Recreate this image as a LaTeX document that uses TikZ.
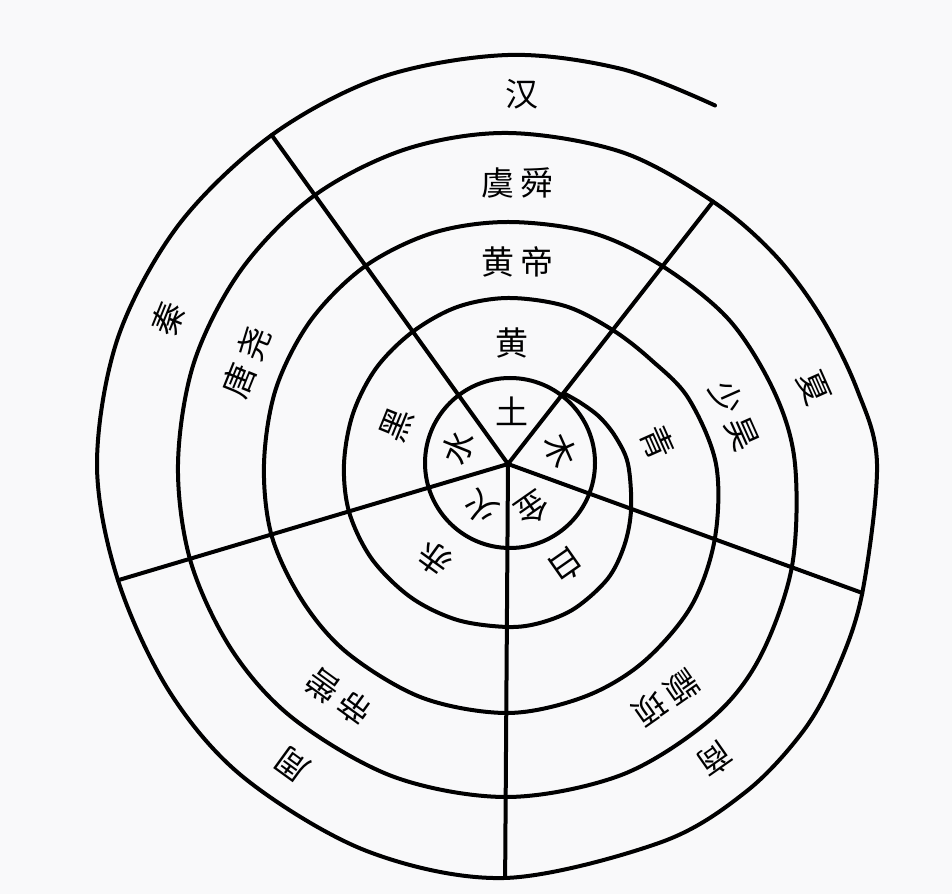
\documentclass[tikz,border=0pt]{standalone}
\usepackage{fontspec}
\newfontfamily\cjk{Noto Sans CJK SC}
\definecolor{paper}{RGB}{249,249,250}
\tikzset{
    ring/.style={line width=4pt, line cap=round, line join=round},
    lbl/.style={font=\cjk\fontsize{33}{33}\selectfont, inner sep=0pt}
}
\newcommand{\gap}{\hspace{6pt}}
\begin{document}
\begin{tikzpicture}[x=1pt, y=1pt]
            % Page
            \fill[paper] (0,0) rectangle (952,894);
            \coordinate (C) at (508,430);
            % Inner circle
            \draw[ring] (510,431) circle[radius=85];
            % Spiral rings
            \draw[ring, shift={(C)}] plot[smooth, tension=0.55] coordinates {
                (52:90) (40:95) (27:103) (14:111) (0:120) (-20:131) (-35:142) (-49:152)
                (-65:159) (-78:162) (-90:163) (-108:164) (-126:165) (-145:166) (-163:166)
                (-180:164) (-198:163) (-216:163) (-234:163) (-252:165) (-270:166) (-290:168)
                (-308:170)
                (-324:177) (-340:192) (-360:208) (-380:220) (-398:232) (-416:240) (-432:245)
                (-450:249) (-470:249) (-490:248) (-506:247) (-523:247) (-540:244) (-558:244)
                (-576:244) (-594:244) (-612:243) (-630:242) (-650:246) (-668:251)
                (-687:264) (-705:276) (-720:287) (-740:302) (-758:318) (-772:326) (-790:331)
                (-810:333) (-830:333) (-850:333) (-866:333) (-883:332) (-900:330) (-918:330)
                (-936:330) (-954:331) (-972:331) (-990:331) (-1010:332) (-1028:333)
                (-1042:339) (-1055:346) (-1068:357) (-1080:369) (-1100:377) (-1112:388)
                (-1122:398) (-1134:405) (-1148:408) (-1170.4:414) (-1190:412) (-1210:410)
                (-1226:408) (-1243.4:407) (-1260:411) (-1278:410) (-1296:407) (-1314.3:405)
                (-1332:407) (-1350:409) (-1366:411) (-1380:414)
            };
            % Spokes
            \foreach \ang/\rad/\i in {125.7/405/1, 52/333/2, -20/377/3, -90.4/414/4, -163.4/407/5} {
                \path (C) ++(\ang:\rad) coordinate (Spoke-\i);
                \draw[ring] (C) -- (Spoke-\i);
            }
            % Labels
            \foreach \ang/\rad/\rot/\txt/\i in {
                85.7/53/0/土/1, 88/121/0/黄/2, 87.4/202/0/黄\gap 帝/3, 88/281/0/虞\gap 舜/4, 87.8/370/0/汉/5,
                14/54/-66/木/6, 8/151/-66/青/7, 12/232/-66/少\gap 昊/8, 14/315/-66/夏/9,
                -61/51/-145/金/10, -60/117/-145/白/11, -56/282/-145/颛\gap 顼/12, -55/361/-145/商/13,
                -122/52/144/火/14, -127.5/120/144/赤/15, -126/288/144/帝\gap 喾/16, -125.7/370/144/周/17,
                162/52/68/水/18, 160.6/118/68/黑/19, 158.7/281/68/唐\gap 尧/20, 156.8/370/68/秦/21} {
                \path (C) ++(\ang:\rad) node[lbl, rotate=\rot] (Label-\i) {\txt};
            }
\end{tikzpicture}
\end{document}
